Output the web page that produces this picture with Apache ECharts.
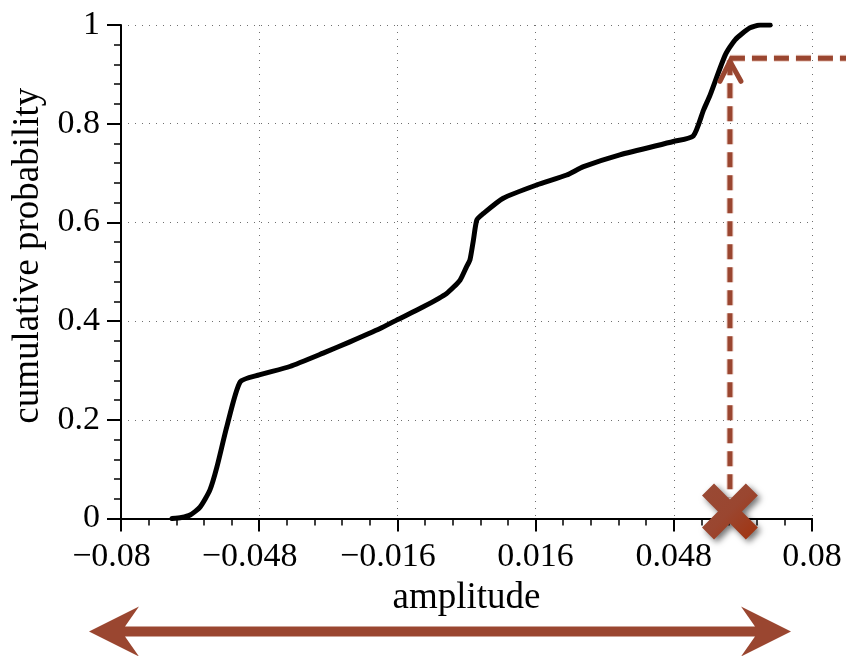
<!DOCTYPE html>
<html>
<head>
<meta charset="utf-8">
<script src="https://cdn.jsdelivr.net/npm/echarts@6/dist/echarts.min.js"></script>
<style>
  html, body { margin: 0; padding: 0; background: #ffffff; }
  #chart { width: 846px; height: 656px; }
</style>
</head>
<body>
<div id="chart"></div>
<script>
// Empirical CDF of the signal amplitude
const amplitude = [-0.0682, -0.0660, -0.0640, -0.0617, -0.0594, -0.0578, -0.0555, -0.0524,
  -0.0480, -0.0409, -0.0332, -0.0270, -0.0200, -0.0162, -0.0100, -0.0046, -0.0015, 0.0000,
  0.0008, 0.0016, 0.0024, 0.0039, 0.0085, 0.0163, 0.0232, 0.0271, 0.0355, 0.0479, 0.0525,
  0.0549, 0.0564, 0.0599, 0.0622, 0.0656, 0.0680, 0.0703];
const cumProb = [0.000, 0.002, 0.007, 0.023, 0.058, 0.104, 0.186, 0.277,
  0.291, 0.308, 0.335, 0.358, 0.385, 0.402, 0.429, 0.456, 0.483, 0.510,
  0.524, 0.564, 0.605, 0.618, 0.649, 0.676, 0.696, 0.713, 0.737, 0.764, 0.775,
  0.828, 0.858, 0.939, 0.970, 0.994, 1.000, 1.000];

// Axis ranges and tick spacing
const xRange = [-0.08, 0.08];
const xStep = 0.032;
const yRange = [0, 1];
const yStep = 0.2;

// Highlighted sample: its amplitude and the probability level it maps to
const markAmplitude = [0.061];
const markLevel = [0.9325];

const FONT = '"Liberation Serif", "Times New Roman", Times, serif';
const RUST = '#9a4630';

function xLabel(v) {
  const r = Math.round(v * 1000) / 1000;
  if (r < 0) return '{m|\u2212}' + String(Math.abs(r)) + '{p|}';
  return String(r);
}
function yLabel(v) {
  const r = Math.round(v * 10) / 10;
  return (r === 0 || r === 1) ? String(r) : r.toFixed(1);
}

// Thick "x" outline (a plus shape turned by 45 degrees)
function crossPoints(cx, cy, arm, half) {
  const base = [[half, half], [half, arm], [-half, arm], [-half, half], [-arm, half], [-arm, -half],
    [-half, -half], [-half, -arm], [half, -arm], [half, -half], [arm, -half], [arm, half]];
  const c = Math.SQRT1_2;
  return base.map(([x, y]) => [cx + (x - y) * c, cy + (x + y) * c]);
}

function renderMark(params, api) {
  const x = api.value(0);
  const lvl = api.value(1);
  const tip = api.coord([x, lvl]);
  const base = api.coord([x, yRange[0]]);
  const crossY = base[1] - 7;
  const dashStyle = { stroke: RUST, lineWidth: 5, lineDash: [15, 8], fill: null };
  const haloStyle = { stroke: 'rgba(214,150,130,0.45)', lineWidth: 7, lineDash: [15, 8], fill: null };
  return {
    type: 'group',
    children: [
      { type: 'line', shape: { x1: tip[0], y1: tip[1] + 2, x2: tip[0], y2: crossY - 14 }, style: haloStyle },
      { type: 'line', shape: { x1: tip[0], y1: tip[1] + 2, x2: tip[0], y2: crossY - 14 }, style: dashStyle },
      { type: 'line', shape: { x1: tip[0], y1: tip[1], x2: api.getWidth(), y2: tip[1] }, style: Object.assign({}, haloStyle, { lineDash: [15, 7] }) },
      { type: 'line', shape: { x1: tip[0], y1: tip[1], x2: api.getWidth(), y2: tip[1] }, style: Object.assign({}, dashStyle, { lineDash: [15, 7] }) },
      {
        type: 'polyline',
        shape: { points: [[tip[0] - 10, tip[1] + 23], [tip[0], tip[1] + 3], [tip[0] + 11, tip[1] + 23]] },
        style: { stroke: RUST, lineWidth: 5, fill: null, lineCap: 'round', lineJoin: 'miter' }
      },
      {
        type: 'polygon',
        shape: { points: crossPoints(tip[0], crossY, 31, 8.5) },
        style: {
          fill: new echarts.graphic.LinearGradient(0, 0, 1, 1, [
            { offset: 0, color: '#994a35' },
            { offset: 0.5, color: '#9a4630' },
            { offset: 1, color: '#a2330e' }
          ]),
          shadowBlur: 6, shadowOffsetX: 3, shadowOffsetY: 3, shadowColor: 'rgba(0,0,0,0.55)'
        }
      }
    ]
  };
}

const chart = echarts.init(document.getElementById('chart'), null, { renderer: 'canvas' });

chart.setOption({
  animation: false,
  backgroundColor: '#ffffff',
  textStyle: { fontFamily: FONT },
  grid: { left: 121, top: 25, width: 691, height: 493.5, containLabel: false },
  xAxis: {
    type: 'value',
    min: xRange[0], max: xRange[1], interval: xStep,
    name: 'amplitude',
    nameLocation: 'middle',
    nameGap: 55,
    nameTextStyle: { fontFamily: FONT, fontSize: 37, color: '#000' },
    axisLine: { show: true, onZero: false, lineStyle: { color: '#000', width: 2 } },
    axisTick: { show: true, inside: false, length: 13, lineStyle: { color: '#000', width: 2 } },
    minorTick: { show: true, splitNumber: 5, length: 7, lineStyle: { color: '#000', width: 1.5 } },
    axisLabel: {
      fontFamily: FONT, fontSize: 34, color: '#000', margin: 22,
      formatter: xLabel,
      rich: { m: { fontFamily: FONT, fontSize: 34, color: '#000' }, p: { width: 19 } }
    },
    splitLine: { show: true, lineStyle: { color: '#6f6f6f', width: 1, type: [1, 6] } }
  },
  yAxis: {
    type: 'value',
    min: yRange[0], max: yRange[1], interval: yStep,
    name: 'cumulative probability',
    nameLocation: 'middle',
    nameGap: 62,
    nameRotate: 90,
    nameTextStyle: { fontFamily: FONT, fontSize: 37, color: '#000', padding: [0, 0, 0, 32] },
    axisLine: { show: true, onZero: false, lineStyle: { color: '#000', width: 2 } },
    axisTick: { show: true, inside: false, length: 14, lineStyle: { color: '#000', width: 2 } },
    minorTick: { show: true, splitNumber: 5, length: 7, lineStyle: { color: '#000', width: 1.5 } },
    axisLabel: { fontFamily: FONT, fontSize: 34, color: '#000', margin: 21, formatter: yLabel },
    splitLine: { show: true, lineStyle: { color: '#6f6f6f', width: 1, type: [1, 6] } }
  },
  series: [
    {
      type: 'line',
      data: amplitude.map((a, i) => [a, cumProb[i]]),
      showSymbol: false,
      smooth: 0.2,
      lineStyle: { color: '#000', width: 5, join: 'round', cap: 'round' },
      z: 3
    },
    {
      type: 'custom',
      clip: false,
      data: markAmplitude.map((a, i) => [a, markLevel[i]]),
      renderItem: renderMark,
      z: 4
    }
  ],
  graphic: [
    {
      // double-headed arrow spanning the amplitude range under the axis
      type: 'polygon',
      shape: {
        points: [[89, 631.5], [139, 606.5], [125, 626.5], [755, 626.5], [741, 606.5], [791, 631.5],
          [741, 656.5], [755, 636.5], [125, 636.5], [139, 656.5]]
      },
      style: { fill: RUST }
    }
  ]
});
</script>
</body>
</html>
